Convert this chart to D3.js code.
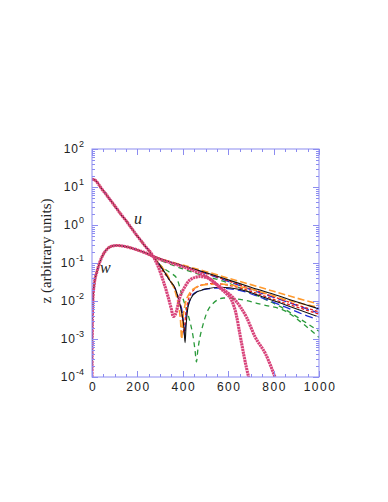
<!DOCTYPE html>
<html>
<head>
<meta charset="utf-8">
<script src="https://cdn.jsdelivr.net/npm/d3@7"></script>
<style>
  body { margin: 0; background: #fff; }
  svg { display: block; }
  .tick-label { font-family: "Liberation Sans", Arial, sans-serif; font-size: 12px; fill: #222; letter-spacing: 1.5px; }
  .ylab { font-family: "Liberation Serif", "Times New Roman", serif; font-size: 15px; fill: #222; }
  .curve-label { font-family: "Liberation Serif", serif; font-style: italic; font-size: 16px; fill: #222; }
</style>
</head>
<body>
<script>
// shared parts of all curves before the crossing
var uHead = [[0,16],[10,15.5],[20,14],[30,11.5],[45,8.6],[57,7],[80,4.6],[100,3.2],[125,2],[150,1.3],[189,0.62],[230,0.3],[269,0.15]]
var wHead = [[0,1e-4],[1,0.001],[2,0.005],[4,0.011],[10,0.028],[22,0.06],[44,0.145],[66,0.23],[90,0.28],[110,0.29],[150,0.27],[200,0.22],[240,0.18],[269,0.15]]

// tails after the crossing
var uPink = [[290,0.085],[313,0.035],[335,0.013],[350,0.006],[358,0.0039],[366,0.0043],[388,0.013],[410,0.024],[432,0.036],[476,0.044],[520,0.038],[564,0.022],[590,0.016],[615,0.0105],[635,0.0045],[652,0.0013],[668,0.0004],[680,0.00018],[690,0.0001]]
var wPink = [[300,0.125],[350,0.1],[400,0.08],[450,0.062],[500,0.045],[540,0.03],[580,0.02],[630,0.0107],[680,0.0038],[718,0.00115],[765,0.0004],[806,0.0001]]

var uBlack = [[300,0.085],[322,0.055],[345,0.033],[366,0.022],[380,0.012],[395,0.005],[405,0.002],[410,0.0008],[414,0.002],[423,0.007],[440,0.013],[454,0.016],[480,0.019],[507,0.021],[564,0.023],[652,0.02],[750,0.013],[850,0.008],[1000,0.0038]]
var wBlack = [[300,0.13],[400,0.085],[500,0.056],[600,0.036],[700,0.023],[800,0.015],[900,0.0095],[1000,0.0062]]

var uOrange = [[300,0.09],[322,0.06],[345,0.035],[366,0.018],[380,0.008],[390,0.003],[395,0.001],[400,0.003],[410,0.008],[430,0.016],[454,0.022],[500,0.027],[560,0.028],[650,0.024],[750,0.017],[850,0.011],[1000,0.0068]]
var wOrange = [[300,0.13],[400,0.088],[500,0.06],[600,0.04],[700,0.027],[800,0.018],[900,0.012],[1000,0.0083]]

var uRed = [[313,0.06],[350,0.03],[380,0.012],[395,0.005],[405,0.0015],[412,0.004],[425,0.011],[450,0.02],[490,0.027],[540,0.029],[600,0.026],[700,0.018],[800,0.011],[900,0.007],[1000,0.0045]]
var wRed = [[300,0.13],[400,0.083],[500,0.054],[600,0.034],[700,0.021],[800,0.013],[900,0.008],[1000,0.0052]]

var uBlue = [[300,0.085],[322,0.055],[345,0.033],[366,0.021],[385,0.01],[400,0.004],[408,0.0012],[414,0.004],[430,0.01],[450,0.016],[510,0.021],[560,0.022],[650,0.019],[750,0.012],[850,0.007],[950,0.004],[990,0.0033]]
var wBlue = [[300,0.13],[400,0.083],[500,0.053],[600,0.033],[700,0.02],[800,0.0125],[900,0.0078],[990,0.005]]

var uGreen = [[313,0.075],[345,0.055],[373,0.04],[395,0.015],[417,0.0057],[432,0.0028],[445,0.0012],[454,0.0005],[460,0.00025],[466,0.0005],[476,0.00115],[490,0.0025],[505,0.0048],[534,0.0087],[580,0.012],[652,0.011],[750,0.008],[850,0.0055],[930,0.0025],[1000,0.0011]]
var wGreen = [[300,0.12],[350,0.09],[400,0.07],[500,0.045],[600,0.03],[652,0.022],[750,0.012],[841,0.0065],[930,0.003],[1000,0.0016]]

var xTicks = [0,200,400,600,800,1000]
var yExps = [-4,-3,-2,-1,0,1,2]

var series = [
    {name:"green",  color:"#2a9a3a", width:1.3, dash:"5,4", u:uGreen,  w:wGreen},
    {name:"blue",   color:"#1f2fd8", width:1.3, dash:"8,4", u:uBlue,   w:wBlue},
    {name:"red",    color:"#e8201c", width:1.3, dash:"3,2", u:uRed,    w:wRed},
    {name:"orange", color:"#ff9a2e", width:1.6, dash:"7,3", u:uOrange, w:wOrange},
    {name:"black",  color:"#111111", width:1.1, dash:null,  u:uBlack,  w:wBlack}
]

var width = 388, height = 502
var margin = {top: 149, left: 92, right: 69, bottom: 125}
var chartWidth = width - margin.left - margin.right
var chartHeight = height - margin.top - margin.bottom
var frameColor = "#8c8cf0"

var svg = d3.select("body").append("svg").attr("width", width).attr("height", height)

var x = d3.scaleLinear().domain([0, 1000]).range([margin.left, margin.left + chartWidth])
var y = d3.scaleLog().domain([1e-4, 100]).range([margin.top + chartHeight, margin.top])

svg.append("clipPath").attr("id", "plot")
    .append("rect")
    .attr("x", margin.left).attr("y", margin.top)
    .attr("width", chartWidth).attr("height", chartHeight)

var line = d3.line()
    .x(function(d) { return x(d[0]) })
    .y(function(d) { return y(Math.max(d[1], 1e-4)) })
    .curve(d3.curveMonotoneX)

var chartLayer = svg.append("g").attr("clip-path", "url(#plot)")

// colored curves (each u and w, sharing the head parts)
series.forEach(function(s) {
    [uHead.concat(s.u), wHead.concat(s.w)].forEach(function(pts) {
        chartLayer.append("path")
            .attr("d", line(pts))
            .attr("fill", "none")
            .attr("stroke", s.color)
            .attr("stroke-width", s.width)
            .attr("stroke-dasharray", s.dash)
    })
})

// thick dotted pink curves on top
;[uHead.concat(uPink), wHead.concat(wPink)].forEach(function(pts) {
    chartLayer.append("path")
        .attr("d", line(pts))
        .attr("fill", "none")
        .attr("stroke", "#d8437a")
        .attr("stroke-width", 3.1)
        .attr("stroke-dasharray", "2.2,0.6")
})

// frame
var axisLayer = svg.append("g")
axisLayer.append("rect")
    .attr("x", margin.left).attr("y", margin.top)
    .attr("width", chartWidth).attr("height", chartHeight)
    .attr("fill", "none").attr("stroke", frameColor).attr("stroke-width", 1)

// x ticks (inside, bottom and top)
var xMinor = d3.range(0, 1001, 50)
xMinor.forEach(function(v) {
    var len = (v % 200 === 0) ? 6 : 3
    var px = Math.round(x(v)) + 0.5
    axisLayer.append("line").attr("x1", px).attr("x2", px)
        .attr("y1", margin.top + chartHeight).attr("y2", margin.top + chartHeight - len)
        .attr("stroke", frameColor)
    axisLayer.append("line").attr("x1", px).attr("x2", px)
        .attr("y1", margin.top).attr("y2", margin.top + len)
        .attr("stroke", frameColor)
})

axisLayer.selectAll(".xlabel")
    .data(xTicks)
    .enter().append("text")
    .attr("class", "tick-label xlabel")
    .attr("x", function(d) { return x(d) + 1 })
    .attr("y", margin.top + chartHeight + 14)
    .attr("text-anchor", "middle")
    .text(function(d) { return d })

// y ticks: decades and 2..9 minors, both sides
yExps.forEach(function(e) {
    var subs = e < 2 ? d3.range(1, 10) : [1]
    subs.forEach(function(m) {
        var v = m * Math.pow(10, e)
        var py = Math.round(y(v)) + 0.5
        var len = m === 1 ? 6 : 3
        axisLayer.append("line").attr("x1", margin.left).attr("x2", margin.left + len)
            .attr("y1", py).attr("y2", py).attr("stroke", frameColor)
        axisLayer.append("line").attr("x1", margin.left + chartWidth).attr("x2", margin.left + chartWidth - len)
            .attr("y1", py).attr("y2", py).attr("stroke", frameColor)
    })
})

var yl = axisLayer.selectAll(".ylabel")
    .data(yExps)
    .enter().append("text")
    .attr("class", "tick-label ylabel")
    .attr("x", margin.left - 8)
    .attr("y", function(d) { return y(Math.pow(10, d)) + 4 })
    .attr("text-anchor", "end")
    .style("letter-spacing", "1px")
yl.append("tspan").text("10")
yl.append("tspan")
    .attr("dy", -6)
    .style("font-size", "9px")
    .style("letter-spacing", "0px")
    .text(function(d) { return d })

// axis title
svg.append("text")
    .attr("class", "ylab")
    .attr("transform", "translate(" + [51, 251] + ") rotate(-90)")
    .attr("text-anchor", "middle")
    .text("z (arbitrary units)")

// curve labels
svg.append("text").attr("class", "curve-label").attr("x", 134).attr("y", 224).text("u")
svg.append("text").attr("class", "curve-label").attr("x", 100).attr("y", 273).text("w")
</script>
</body>
</html>
